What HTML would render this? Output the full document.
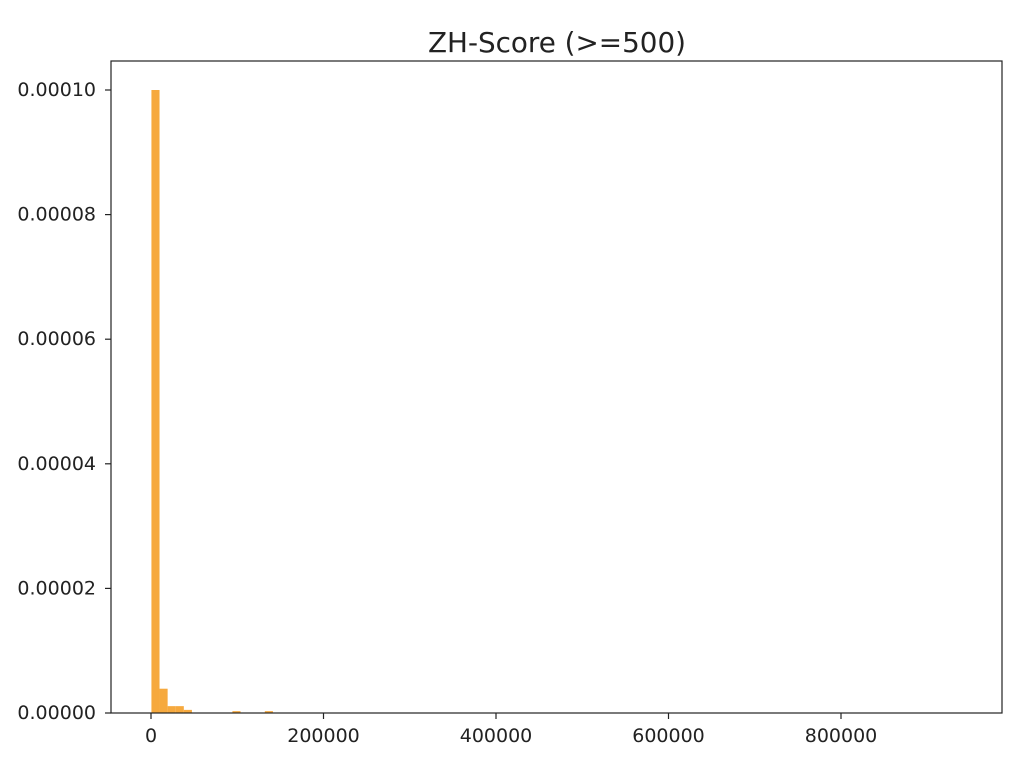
<!DOCTYPE html>
<html><head><meta charset="utf-8"><style>
body{margin:0;background:#fff;}
svg text{font-family:"DejaVu Sans","Liberation Sans",sans-serif;fill:#222;}
</style></head><body>
<svg width="1016" height="760">
<text x="557" y="52" font-size="27.8" text-anchor="middle">ZH-Score (&gt;=500)</text>
<g id="bars"></g>
<rect x="111" y="61" width="891" height="652" fill="none" stroke="#222" stroke-width="1.2"/>
<g id="xt"></g>
<g id="yt"></g>
</svg>
<script>
const binStart = 500;
const binWidth = 9390;
const binIndices = [0, 1, 2, 3, 4, 10, 14];
const densities = [0.0001, 0.0000039, 0.0000011, 0.0000011, 0.0000005, 0.0000003, 0.0000003];
const xTicks = [0, 200000, 400000, 600000, 800000];
const xTickLabels = ["0", "200000", "400000", "600000", "800000"];
const yTicks = [0, 0.00002, 0.00004, 0.00006, 0.00008, 0.0001];
const yTickLabels = ["0.00000", "0.00002", "0.00004", "0.00006", "0.00008", "0.00010"];
const NS = "http://www.w3.org/2000/svg";
const xs = v => 151 + v * 172.5 / 200000;
const ys = v => 713 - v * 623 / 0.0001;
function mk(tag, attrs, parent){const e=document.createElementNS(NS,tag);for(const k in attrs)e.setAttribute(k,attrs[k]);parent.appendChild(e);return e;}
const bars = document.getElementById('bars');
binIndices.forEach((b,i)=>{
  const x0 = xs(binStart + b*binWidth), x1 = xs(binStart + (b+1)*binWidth);
  const r = mk('rect',{x:x0,y:ys(densities[i]),width:x1-x0,height:713-ys(densities[i]),fill:'#f5a22e','fill-opacity':0.92},bars);
  
  
});
const xt = document.getElementById('xt');
xTicks.forEach((v,i)=>{
  const l = mk('line',{x1:xs(v),x2:xs(v),y1:713,y2:719,stroke:'#222','stroke-width':1.2},xt);
  
  
  const t = mk('text',{x:xs(v),y:742,'font-size':19,'text-anchor':'middle'},xt);
  t.textContent = xTickLabels[i];
  
  
});
const yt = document.getElementById('yt');
yTicks.forEach((v,i)=>{
  const l = mk('line',{x1:105,x2:111,y1:ys(v),y2:ys(v),stroke:'#222','stroke-width':1.2},yt);
  
  
  const t = mk('text',{x:96,y:ys(v)+6,'font-size':19,'text-anchor':'end'},yt);
  t.textContent = yTickLabels[i];
  
  
});
</script>
</body></html>
